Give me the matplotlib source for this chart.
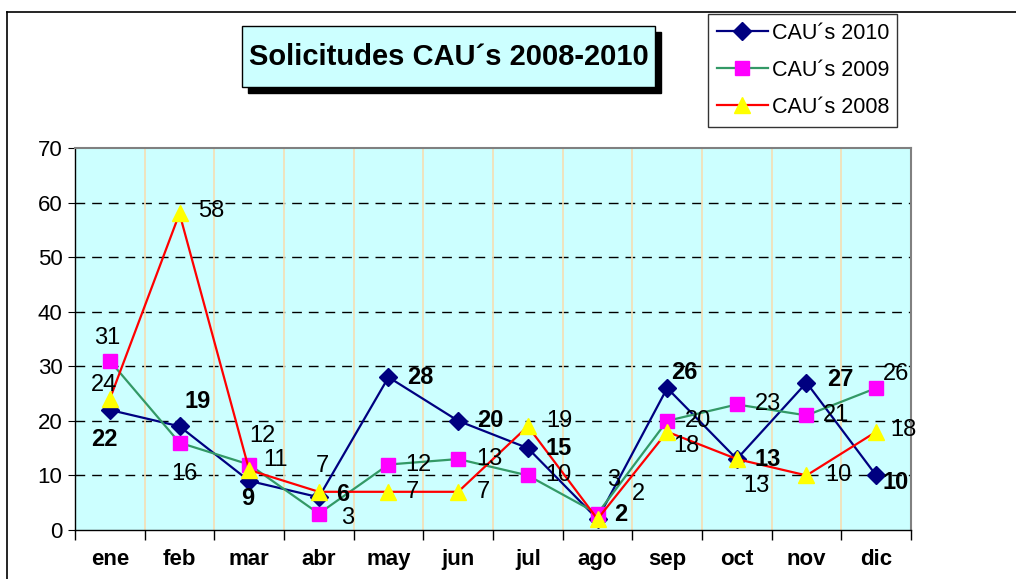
import numpy as np
import matplotlib
matplotlib.use('Agg')
import matplotlib.pyplot as plt
from matplotlib.patches import Rectangle
from matplotlib.lines import Line2D

plt.rcParams['font.family'] = ['Liberation Sans', 'DejaVu Sans']

# data
meses = ['ene', 'feb', 'mar', 'abr', 'may', 'jun', 'jul', 'ago', 'sep', 'oct', 'nov', 'dic']
cau_2010 = [22, 19, 9, 6, 28, 20, 15, 2, 26, 13, 27, 10]
cau_2009 = [31, 16, 12, 3, 12, 13, 10, 3, 20, 23, 21, 26]
cau_2008 = [24, 58, 11, 7, 7, 7, 19, 2, 18, 13, 10, 18]

# label offsets (pixels, x right / y up) for each point
off_2010 = [(-5, -30), (18, 25), (-1, -18), (24, 3), (32, 0), (32, 0),
            (31, 0), (23, 5), (17, 16), (31, 0), (34, 3), (19, -7)]
off_2009 = [(-3, 23), (5, -31), (13, 29), (29, -4), (30, 0), (31, 0),
            (31, 0), (16, 34), (31, 0), (31, 0), (30, 0), (20, 14)]
off_2008 = [(-6, 14), (32, 2), (26, 10), (4, 26), (24, 0), (25, 0),
            (32, 5), (41, 25), (19, -14), (20, -27), (32, 0), (27, 2)]

W, H = 1016, 579
fig = plt.figure(figsize=(W / 100, H / 100), dpi=100)
ax = fig.add_axes([75 / W, 1 - 530 / H, (911 - 75) / W, (530 - 148) / H])
ax.set_facecolor('#CCFFFF')

x = np.arange(len(meses))
ax.plot(x, cau_2010, color='#000080', lw=1.6, marker='D', ms=9,
        mfc='#000080', mec='#000080', label='CAU´s 2010', zorder=3)
ax.plot(x, cau_2009, color='#339966', lw=1.6, marker='s', ms=10,
        mfc='#FF00FF', mec='#FF00FF', label='CAU´s 2009', zorder=4)
ax.plot(x, cau_2008, color='#FF0000', lw=1.6, marker='^', ms=12,
        mfc='#FFFF00', mec='#FFFF00', label='CAU´s 2008', zorder=5)

for vals, offs, bold in [(cau_2010, off_2010, True),
                         (cau_2009, off_2009, False),
                         (cau_2008, off_2008, False)]:
    for i, v in enumerate(vals):
        ax.annotate(str(v), (x[i], v), xytext=offs[i], textcoords='offset pixels',
                    ha='center', va='center', fontsize=17,
                    fontweight='bold' if bold else 'normal', zorder=6)

ax.set_xlim(-0.5, len(meses) - 0.5)
ax.set_ylim(0, 70)
ax.set_yticks(range(0, 71, 10))
ax.set_xticks(np.arange(-0.5, len(meses), 1.0))
ax.set_xticklabels([])
ax.set_xticks(x, minor=True)
ax.set_xticklabels(meses, minor=True, fontweight='bold', fontsize=16)
ax.tick_params(axis='x', which='minor', length=0, pad=14)
ax.tick_params(axis='x', which='major', length=7, direction='out', width=1)
ax.tick_params(axis='y', length=5, direction='out', labelsize=16, pad=4)

for yv in range(10, 70, 10):
    ax.axhline(yv, color='black', lw=1, ls=(0, (7, 5)), zorder=1)
for xv in np.arange(0.5, len(meses) - 1, 1.0):
    ax.axvline(xv, color='#F5DEB3', lw=1.2, zorder=1)

for s in ['top', 'right']:
    ax.spines[s].set_color('#808080')
    ax.spines[s].set_linewidth(1.5)
for s in ['left', 'bottom']:
    ax.spines[s].set_color('black')
    ax.spines[s].set_linewidth(1)

# legend
leg = fig.legend(loc='upper left', bbox_to_anchor=(708 / W, 1 - 14 / H),
                 fontsize=15.5, frameon=True, fancybox=False, handlelength=2.4,
                 handletextpad=0.15, labelspacing=0.75, borderpad=0.4,
                 borderaxespad=0)
leg.get_frame().set_edgecolor('black')
leg.get_frame().set_linewidth(1)

# title box with shadow
fig.add_artist(Rectangle((248 / W, 1 - 93 / H), (661 - 248) / W, (93 - 32) / H,
                         transform=fig.transFigure, facecolor='black',
                         edgecolor='black', zorder=1))
fig.add_artist(Rectangle((242 / W, 1 - 87 / H), (655 - 242) / W, (87 - 26) / H,
                         transform=fig.transFigure, facecolor='#CCFFFF',
                         edgecolor='black', lw=1, zorder=2))
fig.text((242 + 655) / 2 / W, 1 - 57 / H, 'Solicitudes CAU´s 2008-2010',
         ha='center', va='center', fontsize=21, fontweight='bold', zorder=3)

# outer chart frame
fig.add_artist(Line2D([7 / W, 1], [1 - 12 / H, 1 - 12 / H], transform=fig.transFigure,
                      color='black', lw=1.2))
fig.add_artist(Line2D([7 / W, 7 / W], [0, 1 - 12 / H], transform=fig.transFigure,
                      color='black', lw=1.2))

fig.savefig('out.png', dpi=100)
